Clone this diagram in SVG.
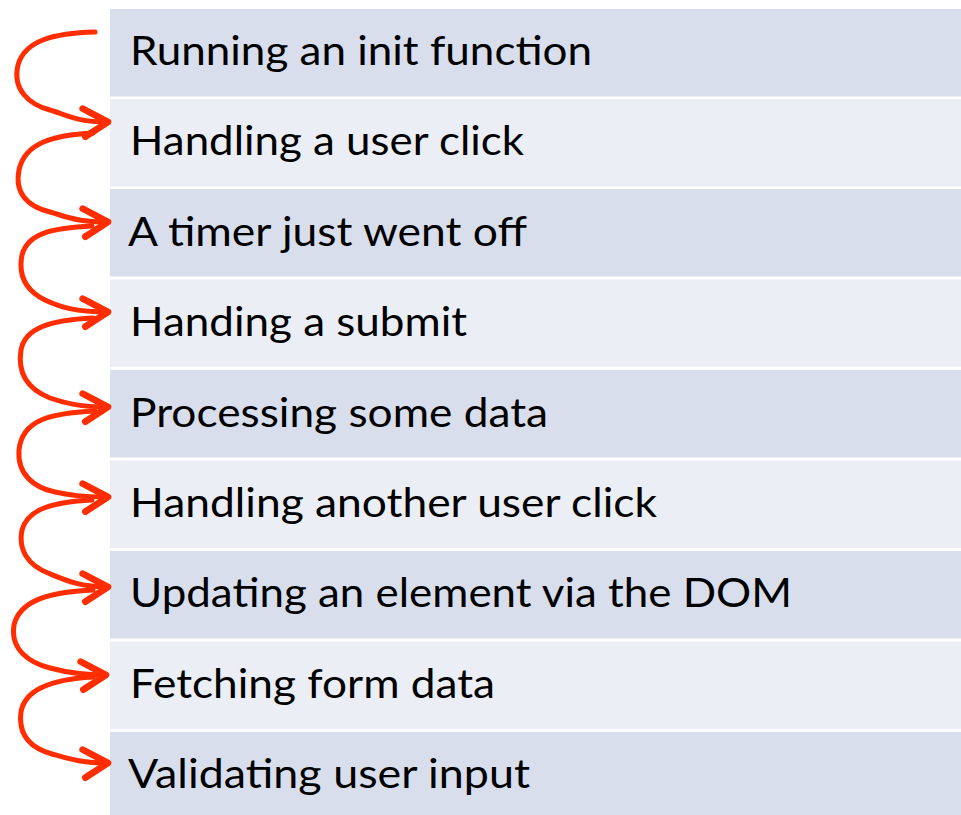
<svg xmlns="http://www.w3.org/2000/svg" width="961" height="815" viewBox="0 0 961 815">
  <defs>
    <marker id="arr" markerUnits="userSpaceOnUse" markerWidth="40" markerHeight="40" refX="0" refY="0" viewBox="-25 -15 30 30" orient="auto" overflow="visible">
      <path d="M-19,-10 L0,0 L-17,11" fill="none" stroke="#ff2d00" stroke-width="5" stroke-linecap="round" stroke-linejoin="round"/>
    </marker>
  </defs>
  <style>
    .dark { fill: #d8deec; }
    .light { fill: #ebeef4; }
    .lbl { font-family: Lato, "Open Sans", "Liberation Sans", sans-serif; font-size: 40px; fill: #000000; }
    .link { fill: none; stroke: #ff2d00; stroke-width: 5; stroke-linecap: round; stroke-linejoin: round; marker-end: url(#arr); }
  </style>
  <rect width="961" height="815" fill="#ffffff"/>
  <g id="row1"><rect class="dark" x="110" y="9" width="851" height="87.5"/><text class="lbl" x="130" y="65" textLength="462" lengthAdjust="spacingAndGlyphs">Running an init function</text></g>
  <g id="row2"><rect class="light" x="110" y="99" width="851" height="87.5"/><text class="lbl" x="130" y="155.4" textLength="394" lengthAdjust="spacingAndGlyphs">Handling a user click</text></g>
  <g id="row3"><rect class="dark" x="110" y="189" width="851" height="87.5"/><text class="lbl" x="128" y="245.8" textLength="399" lengthAdjust="spacingAndGlyphs">A timer just went off</text></g>
  <g id="row4"><rect class="light" x="110" y="279.5" width="851" height="87.5"/><text class="lbl" x="130" y="336.2" textLength="337" lengthAdjust="spacingAndGlyphs">Handing a submit</text></g>
  <g id="row5"><rect class="dark" x="110" y="370" width="851" height="87.5"/><text class="lbl" x="130" y="426.6" textLength="418" lengthAdjust="spacingAndGlyphs">Processing some data</text></g>
  <g id="row6"><rect class="light" x="110" y="460.5" width="851" height="87.5"/><text class="lbl" x="130" y="517" textLength="527" lengthAdjust="spacingAndGlyphs">Handling another user click</text></g>
  <g id="row7"><rect class="dark" x="110" y="551" width="851" height="87.5"/><text class="lbl" x="130" y="607.4" textLength="662" lengthAdjust="spacingAndGlyphs">Updating an element via the DOM</text></g>
  <g id="row8"><rect class="light" x="110" y="641.5" width="851" height="87.5"/><text class="lbl" x="130" y="697.8" textLength="365" lengthAdjust="spacingAndGlyphs">Fetching form data</text></g>
  <g id="row9"><rect class="dark" x="110" y="732" width="851" height="90"/><text class="lbl" x="128" y="788" textLength="402" lengthAdjust="spacingAndGlyphs">Validating user input</text></g>
  <g id="connectors">
    <path class="link" d="M95,32 C55,33 25,40 18,65 C12,90 30,105 50,110 C65,114 75,122 108,122"/>
    <path class="link" d="M93,133 C55,135 25,142 19,170 C14,195 30,207 50,212 C65,216 75,222 108,222"/>
    <path class="link" d="M92,226 C55,228 28,232 22,255 C18,275 25,290 45,300 C60,307 75,312 108,312"/>
    <path class="link" d="M93,318 C50,320 25,328 21,350 C17,375 30,390 50,398 C65,403 80,407 108,407"/>
    <path class="link" d="M95,411 C50,413 22,420 19,450 C17,475 35,488 55,492 C70,495 80,497 108,497"/>
    <path class="link" d="M92,500 C55,502 28,508 22,530 C18,550 28,565 48,573 C65,580 80,587 108,587"/>
    <path class="link" d="M93,590 C50,592 20,600 14,625 C10,650 30,663 50,668 C65,672 80,675 106,675"/>
    <path class="link" d="M93,677 C55,679 25,688 21,712 C18,735 30,748 52,754 C70,759 82,763 108,763"/>
  </g>
</svg>
